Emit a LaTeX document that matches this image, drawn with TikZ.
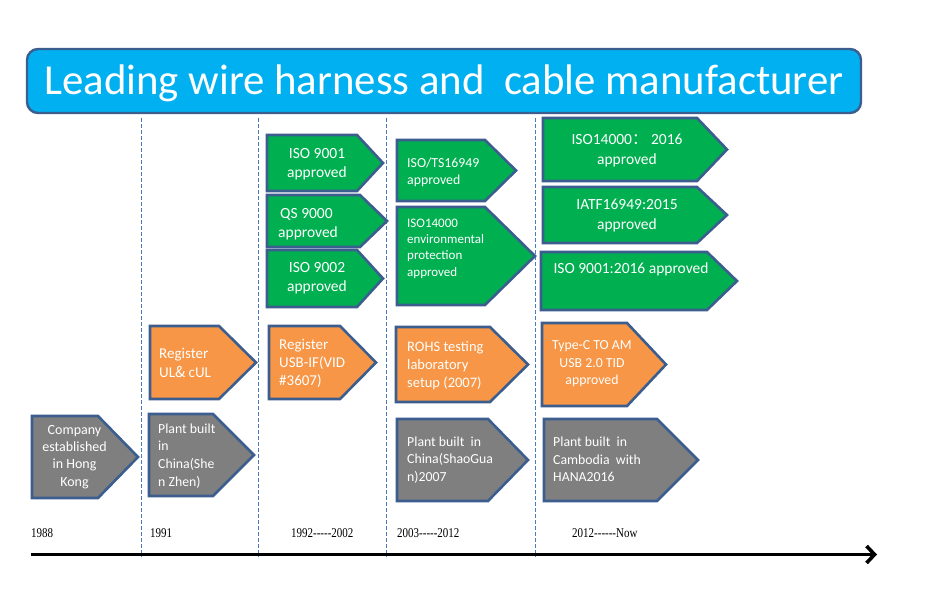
\documentclass[tikz,border=0pt]{standalone}
\usepackage{fontspec}
\setmainfont{Carlito}
\newfontfamily\cjk{Noto Sans CJK SC}
\newfontfamily\yearfont[Ligatures=TeXOff,FakeStretch=0.82]{Liberation Serif}
\usetikzlibrary{arrows.meta}
\definecolor{edgeblue}{HTML}{3B5E8E}
\definecolor{titleblue}{HTML}{00B0F0}
\definecolor{boxgreen}{HTML}{00B050}
\definecolor{boxorange}{HTML}{F79646}
\definecolor{boxgray}{HTML}{7F7F7F}
\definecolor{dashblue}{HTML}{4A7EBB}

\begin{document}
\begin{tikzpicture}[x=1pt,y=-1pt,line join=miter,
  tag/.style={draw=edgeblue,line width=2.6pt},
  grn/.style={tag,fill=boxgreen},
  org/.style={tag,fill=boxorange},
  gry/.style={tag,fill=boxgray},
  sep/.style={draw=dashblue,line width=0.8pt,dash pattern=on 3.5pt off 2.5pt},
  txt/.style={text=white,inner sep=0pt},
  big/.style={txt,font=\fontsize{15.5}{19.5}\selectfont},
  mid/.style={txt,font=\fontsize{14.5}{18.2}\selectfont},
  sml/.style={txt,font=\fontsize{13.8}{17.5}\selectfont},
  year/.style={inner sep=0pt,anchor=base west,font=\yearfont\fontsize{13.4}{15}\selectfont}]
\useasboundingbox (0,0) rectangle (928,610);

% title bar
\draw[draw=edgeblue,fill=titleblue,line width=2.4pt,rounded corners=11pt] (27,49) rectangle (861,113);
\node[txt,anchor=base,font=\fontsize{42.8}{50}\selectfont] (title) at (444,94.5) {Leading wire harness and~~cable manufacturer};

% period separators
\draw[sep] (141.7,118)-- (141.7,557);
\draw[sep] (258.3,118)-- (258.3,557);
\draw[sep] (386.5,118)-- (386.5,557);
\draw[sep] (535,118)-- (535,557);

% time axis
\draw[line width=3.6pt,-{Straight Barb[length=8pt,width=17pt]}] (31,554.5)-- (877,554.5);

% green: certificates
\draw[grn] (267,135) -- (357,135) -- (383,163) -- (357,191) -- (267,191) -- cycle;
\draw[grn] (267,195) -- (360,195) -- (387,221) -- (360,247) -- (267,247) -- cycle;
\draw[grn] (267,250) -- (357,250) -- (383,278.5) -- (357,307) -- (267,307) -- cycle;
\draw[grn] (397,140) -- (485,140) -- (516,170.5) -- (485,201) -- (397,201) -- cycle;
\draw[grn] (397,207) -- (485,207) -- (535,256) -- (485,305) -- (397,305) -- cycle;
\draw[grn] (543,118) -- (697,118) -- (727,149.5) -- (697,181) -- (543,181) -- cycle;
\draw[grn] (543,187) -- (697,187) -- (727,215) -- (697,243) -- (543,243) -- cycle;
\draw[grn] (541,252) -- (707,252) -- (737,281) -- (707,310) -- (541,310) -- cycle;

% orange: registrations
\draw[org] (150,326) -- (219,326) -- (256,362.5) -- (219,399) -- (150,399) -- cycle;
\draw[org] (269,326) -- (340,326) -- (376,362.5) -- (340,399) -- (269,399) -- cycle;
\draw[org] (396,327) -- (490,327) -- (528,364.5) -- (490,402) -- (396,402) -- cycle;
\draw[org] (542,323) -- (627,323) -- (666,364.5) -- (627,406) -- (542,406) -- cycle;

% gray: plants
\draw[gry] (32,416) -- (98,416) -- (138,457) -- (98,498) -- (32,498) -- cycle;
\draw[gry] (149,414) -- (213,414) -- (254,455) -- (213,496) -- (149,496) -- cycle;
\draw[gry] (397,419) -- (488,419) -- (528,460) -- (488,501) -- (397,501) -- cycle;
\draw[gry] (544,419) -- (657,419) -- (698,460) -- (657,501) -- (544,501) -- cycle;

% labels
\node[big,align=center] (iso9001) at (317,164) {ISO 9001\\approved};
\node[big,align=left,anchor=west] (qs9000) at (278,224) {\hspace{2pt}QS 9000\\approved};
\node[big,align=center] (iso9002) at (317,278) {ISO 9002\\approved};
\node[sml,align=left,anchor=west] (ts16949) at (407,172.5) {ISO/TS16949\\approved};
\node[txt,align=left,anchor=west,font=\fontsize{13}{16.4}\selectfont] (iso14000) at (407,248.5) {ISO14000\\environmental\\protection\\approved};
\node[big,align=center,font=\fontsize{15.5}{20}\selectfont] (iso14016) at (627,151) {ISO14000{\cjk ：}\ 2016\\approved};
\node[big,align=center,font=\fontsize{15.5}{20}\selectfont] (iatf) at (627,216) {IATF16949:2015\\approved};
\node[big] (iso9016) at (631,269.5) {ISO 9001:2016 approved};

\node[big,align=left,anchor=west,font=\fontsize{15}{19}\selectfont] (ul) at (159,363) {Register\\UL{\cjk\&} cUL};
\node[big,align=left,anchor=west,font=\fontsize{15}{18.3}\selectfont] (usbif) at (279,363.5) {Register\\USB-IF(VID\\\#3607)};
\node[mid,align=left,anchor=west,font=\fontsize{14.5}{18}\selectfont] (rohs) at (407,365.5) {ROHS testing\\laboratory\\setup (2007)};
\node[sml,align=center] (typec) at (592,364) {Type-C TO AM\\USB 2.0 TID\\approved};

\node[sml,align=center,font=\fontsize{14}{17.3}\selectfont] (hk) at (74.5,457) {Company\\established\\in Hong\\Kong};
\node[sml,align=left,anchor=west,font=\fontsize{13.8}{17.7}\selectfont] (shenzhen) at (158,456) {Plant built\\in\\China(She\\n Zhen)};
\node[sml,align=left,anchor=west] (shaoguan) at (407,460) {Plant built~ in\\China(ShaoGua\\n)2007};
\node[sml,align=left,anchor=west] (cambodia) at (553,459.5) {Plant built~ in\\Cambodia~ with\\HANA2016};

% years
\node[year] (y1988) at (31,537.5) {1988};
\node[year] (y1991) at (150,537.5) {1991};
\node[year] (y1992) at (291,537.5) {1992-----2002};
\node[year] (y2003) at (397,537.5) {2003-----2012};
\node[year] (y2012) at (572,537.5) {2012------Now};

\end{tikzpicture}
\end{document}
